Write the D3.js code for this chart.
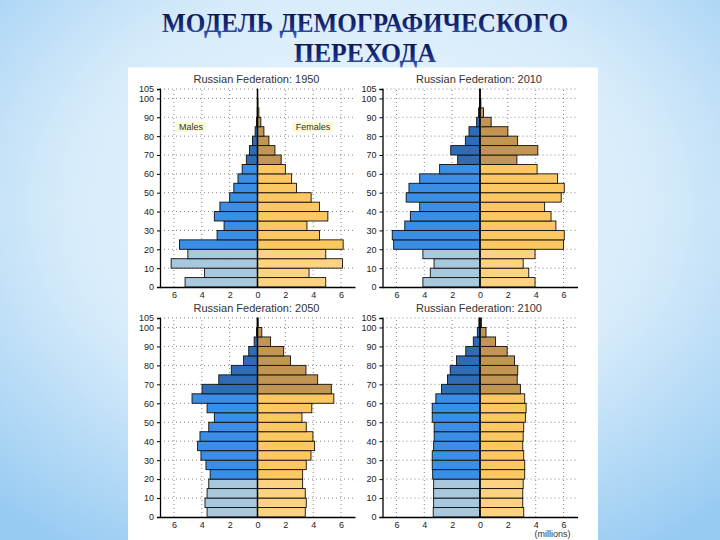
<!DOCTYPE html>
<html>
<head>
<meta charset="utf-8">
<script src="https://cdn.jsdelivr.net/npm/d3@7"></script>
<style>
  html, body { margin: 0; padding: 0; background: #cfe6f8; }
  svg { display: block; }
</style>
</head>
<body>
<div id="chart"></div>
<script>
// age groups (start of each 5-year band, last one is 100+)
var ageStarts = [0, 5, 10, 15, 20, 25, 30, 35, 40, 45, 50, 55, 60, 65, 70, 75, 80, 85, 90, 95, 100];
var yTicks = [0, 10, 20, 30, 40, 50, 60, 70, 80, 90, 100, 105];
var xTicks = [-6, -4, -2, 0, 2, 4, 6];
var panelTitles = ["Russian Federation: 1950", "Russian Federation: 2010", "Russian Federation: 2050", "Russian Federation: 2100"];

// population in millions
var males1950 = [5.2, 3.8, 6.2, 5.0, 5.6, 2.9, 2.4, 3.1, 2.7, 2.0, 1.7, 1.4, 1.1, 0.8, 0.58, 0.36, 0.17, 0.07, 0.02, 0.01, 0.0];
var females1950 = [4.9, 3.7, 6.1, 4.9, 6.15, 4.45, 3.55, 5.05, 4.45, 3.85, 2.8, 2.45, 2.0, 1.7, 1.25, 0.82, 0.46, 0.24, 0.1, 0.03, 0.01];
var males2010 = [4.1, 3.57, 3.3, 4.1, 6.2, 6.3, 5.4, 5.0, 4.33, 5.3, 5.1, 4.33, 2.9, 1.6, 2.1, 1.05, 0.79, 0.24, 0.1, 0.03, 0.01];
var females2010 = [3.95, 3.5, 3.1, 3.95, 6.0, 6.05, 5.45, 5.1, 4.64, 5.83, 6.05, 5.57, 4.1, 2.65, 4.15, 2.7, 2.0, 0.8, 0.25, 0.06, 0.01];
var males2050 = [3.62, 3.77, 3.62, 3.5, 3.4, 3.7, 4.06, 4.3, 4.13, 3.5, 3.1, 3.62, 4.7, 3.98, 2.78, 1.88, 1.0, 0.63, 0.24, 0.07, 0.02];
var females2050 = [3.43, 3.5, 3.43, 3.24, 3.24, 3.5, 3.84, 4.1, 3.98, 3.5, 3.19, 3.9, 5.48, 5.3, 4.32, 3.48, 2.37, 1.88, 0.94, 0.31, 0.05];
var males2100 = [3.36, 3.33, 3.33, 3.33, 3.4, 3.43, 3.43, 3.33, 3.29, 3.29, 3.43, 3.43, 3.17, 2.76, 2.33, 2.14, 1.69, 1.02, 0.48, 0.19, 0.08];
var females2100 = [3.14, 3.07, 3.07, 3.1, 3.21, 3.21, 3.14, 3.07, 3.1, 3.14, 3.26, 3.31, 3.21, 2.9, 2.67, 2.71, 2.48, 1.95, 1.12, 0.43, 0.1];

function PyramidChart() {};

PyramidChart.prototype = {
    setup: function() {
        this.width = 720;
        this.height = 540;
        this.svg = d3.select("#chart").append("svg")
            .attr("width", this.width)
            .attr("height", this.height);

        this.drawBackground();
        this.drawTitle();

        // white sheet with the four pyramids
        this.svg.append("rect")
            .attr("x", 128).attr("y", 67.5)
            .attr("width", 470).attr("height", 480)
            .attr("fill", "#ffffff");

        var panels = [
            {left: 160, bottom: 287, top: 89, males: males1950, females: females1950, title: panelTitles[0], labels: true},
            {left: 382.5, bottom: 287, top: 89, males: males2010, females: females2010, title: panelTitles[1]},
            {left: 160, bottom: 517, top: 318, males: males2050, females: females2050, title: panelTitles[2]},
            {left: 382.5, bottom: 517, top: 318, males: males2100, females: females2100, title: panelTitles[3], units: true}
        ];
        for (var i = 0; i < panels.length; i++) {
            this.drawPanel(panels[i]);
        }
    },

    drawBackground: function() {
        var defs = this.svg.append("defs");
        var bg = defs.append("radialGradient").attr("id", "bg")
            .attr("cx", "50%").attr("cy", "38%").attr("r", "75%");
        bg.append("stop").attr("offset", "0%").attr("stop-color", "#f2f9fe");
        bg.append("stop").attr("offset", "55%").attr("stop-color", "#d6ebfa");
        bg.append("stop").attr("offset", "100%").attr("stop-color", "#98cbf2");

        var tg = defs.append("linearGradient").attr("id", "titleFill")
            .attr("x1", 0).attr("y1", 0).attr("x2", 0).attr("y2", 1);
        tg.append("stop").attr("offset", "0%").attr("stop-color", "#08113f");
        tg.append("stop").attr("offset", "60%").attr("stop-color", "#17297a");
        tg.append("stop").attr("offset", "100%").attr("stop-color", "#4466c4");

        this.svg.append("rect")
            .attr("width", this.width).attr("height", this.height)
            .attr("fill", "url(#bg)");
    },

    drawTitle: function() {
        var lines = [
            {text: "МОДЕЛЬ ДЕМОГРАФИЧЕСКОГО", y: 32, len: 406},
            {text: "ПЕРЕХОДА", y: 62, len: 142}
        ];
        this.svg.selectAll(".title")
            .data(lines)
            .enter().append("text")
            .attr("class", "title")
            .attr("x", 365)
            .attr("y", function(d) { return d.y; })
            .attr("text-anchor", "middle")
            .attr("textLength", function(d) { return d.len; })
            .attr("lengthAdjust", "spacingAndGlyphs")
            .attr("font-family", "'Liberation Serif', 'DejaVu Serif', serif")
            .attr("font-weight", "bold")
            .attr("font-size", 27)
            .attr("fill", "url(#titleFill)")
            .attr("stroke", "#dbe8f8")
            .attr("stroke-width", 0.7)
            .attr("paint-order", "stroke")
            .text(function(d) { return d.text; });
    },

    ageColor: function(age, side) {
        if (side === "m") {
            if (age < 20) return "#a7c8dd";
            if (age < 65) return "#3a8ee6";
            return "#2f6cb6";
        }
        if (age < 20) return "#fdd283";
        if (age < 65) return "#fdc862";
        return "#c29552";
    },

    drawPanel: function(p) {
        var self = this,
            g = this.svg.append("g"),
            font = "'Liberation Sans', Arial, sans-serif";

        var x = d3.scaleLinear().domain([-7, 7]).range([p.left, p.left + 195]);
        var y = d3.scaleLinear().domain([0, 105]).range([p.bottom, p.top]);

        // dotted grid
        g.selectAll(".hgrid")
            .data(yTicks.filter(function(t) { return t > 0; }))
            .enter().append("line")
            .attr("x1", x(-7)).attr("x2", x(7))
            .attr("y1", function(d) { return y(d); })
            .attr("y2", function(d) { return y(d); })
            .attr("stroke", "#777")
            .attr("stroke-width", 0.9)
            .attr("stroke-dasharray", "1,3");
        g.selectAll(".vgrid")
            .data(xTicks.filter(function(t) { return t !== 0; }))
            .enter().append("line")
            .attr("x1", function(d) { return x(d); })
            .attr("x2", function(d) { return x(d); })
            .attr("y1", y(0)).attr("y2", y(105))
            .attr("stroke", "#777")
            .attr("stroke-width", 0.9)
            .attr("stroke-dasharray", "1,3");

        // bars
        g.selectAll(".male")
            .data(p.males)
            .enter().append("rect")
            .attr("x", function(d) { return x(-d); })
            .attr("width", function(d) { return x(0) - x(-d); })
            .attr("y", function(d, i) { return y(ageStarts[i] + 5); })
            .attr("height", function(d, i) { return y(ageStarts[i]) - y(ageStarts[i] + 5); })
            .attr("fill", function(d, i) { return self.ageColor(ageStarts[i], "m"); })
            .attr("stroke", "#111")
            .attr("stroke-width", 0.9);
        g.selectAll(".female")
            .data(p.females)
            .enter().append("rect")
            .attr("x", x(0))
            .attr("width", function(d) { return x(d) - x(0); })
            .attr("y", function(d, i) { return y(ageStarts[i] + 5); })
            .attr("height", function(d, i) { return y(ageStarts[i]) - y(ageStarts[i] + 5); })
            .attr("fill", function(d, i) { return self.ageColor(ageStarts[i], "f"); })
            .attr("stroke", "#111")
            .attr("stroke-width", 0.9);

        // axes
        g.append("line")
            .attr("x1", x(0)).attr("x2", x(0))
            .attr("y1", y(0)).attr("y2", y(105))
            .attr("stroke", "#000").attr("stroke-width", 1.5);

        var yAxis = d3.axisLeft(y).tickValues(yTicks).tickSize(3).tickPadding(3);
        var ya = g.append("g")
            .attr("transform", "translate(" + x(-7) + ",0)")
            .call(yAxis);
        ya.select(".domain").attr("stroke", "#000").attr("stroke-width", 1.3);
        ya.selectAll("text").attr("font-family", font).attr("font-size", 9).attr("fill", "#222");

        var xAxis = d3.axisBottom(x).tickValues(xTicks).tickSize(0).tickPadding(5)
            .tickFormat(function(d) { return Math.abs(d); });
        var xa = g.append("g")
            .attr("transform", "translate(0," + y(0) + ")")
            .call(xAxis);
        xa.select(".domain").attr("stroke", "#000").attr("stroke-width", 1.3);
        xa.selectAll("text").attr("font-family", font).attr("font-size", 9).attr("fill", "#222");

        // panel title
        g.append("text")
            .attr("x", x(0) - 1)
            .attr("y", p.top - 6)
            .attr("text-anchor", "middle")
            .attr("font-family", font)
            .attr("font-size", 11)
            .attr("fill", "#333")
            .text(p.title);

        if (p.labels) {
            var tags = [{text: "Males", cx: 191}, {text: "Females", cx: 313}];
            for (var i = 0; i < tags.length; i++) {
                var tw = tags[i].text.length * 5 + 6;
                g.append("rect")
                    .attr("x", tags[i].cx - tw / 2).attr("y", y(85) - 5)
                    .attr("width", tw).attr("height", 10)
                    .attr("fill", "#fafad2");
                g.append("text")
                    .attr("x", tags[i].cx).attr("y", y(85) + 3)
                    .attr("text-anchor", "middle")
                    .attr("font-family", font)
                    .attr("font-size", 9)
                    .attr("fill", "#333")
                    .text(tags[i].text);
            }
        }

        if (p.units) {
            g.append("text")
                .attr("x", x(5.2)).attr("y", y(0) + 20)
                .attr("text-anchor", "middle")
                .attr("font-family", font)
                .attr("font-size", 9)
                .attr("fill", "#333")
                .text("(millions)");
        }
    }
};

var chart = new PyramidChart();
chart.setup();
</script>
</body>
</html>
